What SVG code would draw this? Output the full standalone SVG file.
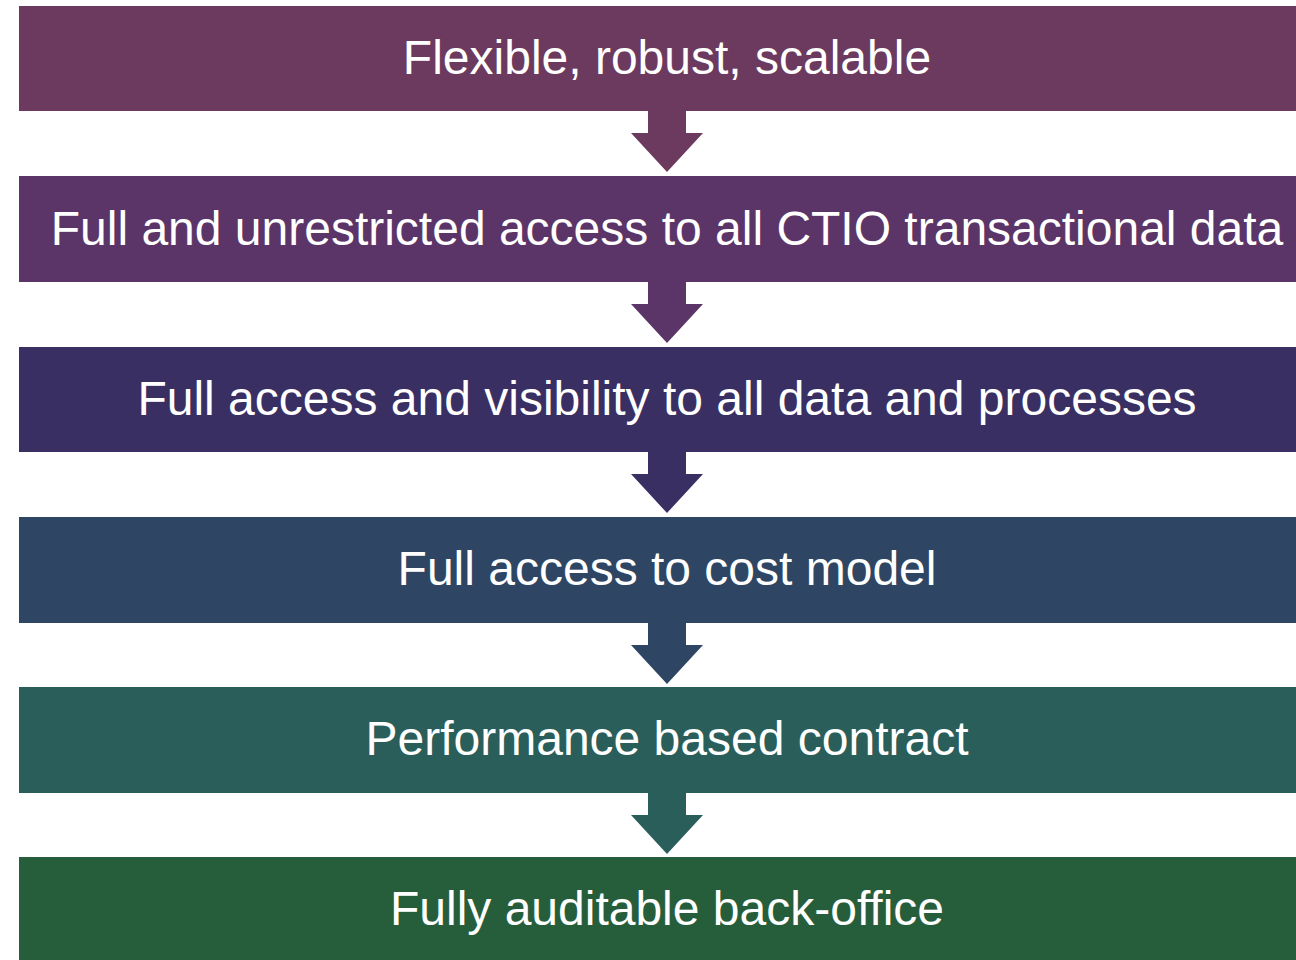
<svg xmlns="http://www.w3.org/2000/svg" width="1296" height="960" viewBox="0 0 1296 960">
<style>
.t{font-family:"Liberation Sans",Arial,sans-serif;font-size:48px;fill:#ffffff;text-anchor:middle}
</style>
<rect width="1296" height="960" fill="#ffffff"/>
<g id="connectors">
<path d="M648,108 H686 V133 H703 L667,172 L631,133 H648 Z" fill="#6B3A5E"/>
<path d="M648,279 H686 V304 H703 L667,343 L631,304 H648 Z" fill="#5C3568"/>
<path d="M648,449 H686 V474 H703 L667,513 L631,474 H648 Z" fill="#3A2F62"/>
<path d="M648,620 H686 V645 H703 L667,684 L631,645 H648 Z" fill="#2E4663"/>
<path d="M648,790 H686 V815 H703 L667,854 L631,815 H648 Z" fill="#2A5E5A"/>
</g>
<g id="n1"><rect x="19" y="6" width="1300" height="105" fill="#6B3A5E"/><text class="t" x="667" y="74">Flexible, robust, scalable</text></g>
<g id="n2"><rect x="19" y="176" width="1300" height="106" fill="#5C3568"/><text class="t" x="667" y="245">Full and unrestricted access to all CTIO transactional data</text></g>
<g id="n3"><rect x="19" y="347" width="1300" height="105" fill="#3A2F62"/><text class="t" x="667" y="415">Full access and visibility to all data and processes</text></g>
<g id="n4"><rect x="19" y="517" width="1300" height="106" fill="#2E4663"/><text class="t" x="667" y="585">Full access to cost model</text></g>
<g id="n5"><rect x="19" y="687" width="1300" height="106" fill="#2A5E5A"/><text class="t" x="667" y="755">Performance based contract</text></g>
<g id="n6"><rect x="19" y="857" width="1300" height="106" fill="#265E3C"/><text class="t" x="667" y="925">Fully auditable back-office</text></g>
</svg>
